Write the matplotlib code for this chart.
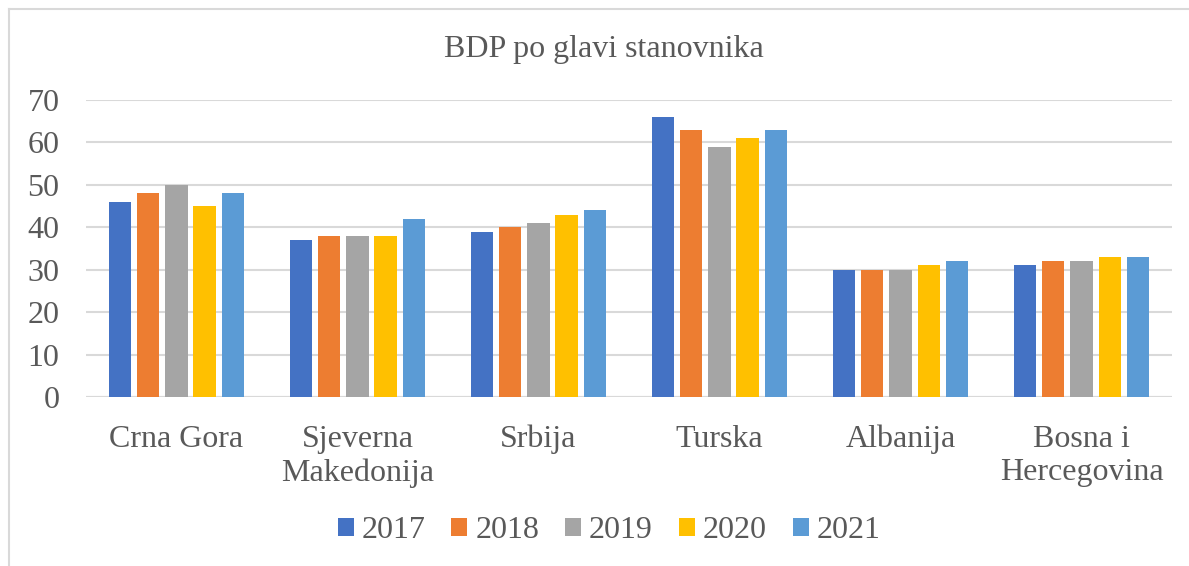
import numpy as np
import matplotlib.pyplot as plt
from matplotlib.lines import Line2D

plt.rcParams['font.family'] = ['Liberation Serif', 'DejaVu Serif']

countries = ['Crna Gora', 'Sjeverna\nMakedonija', 'Srbija', 'Turska', 'Albanija', 'Bosna i\nHercegovina']
years = ['2017', '2018', '2019', '2020', '2021']
v2017 = [46, 37, 39, 66, 30, 31]
v2018 = [48, 38, 40, 63, 30, 32]
v2019 = [50, 38, 41, 59, 30, 32]
v2020 = [45, 38, 43, 61, 31, 33]
v2021 = [48, 42, 44, 63, 32, 33]
series = [v2017, v2018, v2019, v2020, v2021]
colors = ['#4472C4', '#ED7D31', '#A5A5A5', '#FFC000', '#5B9BD5']
text_col = '#595959'

fig = plt.figure(figsize=(11.89, 5.66), dpi=100)
ax = fig.add_axes([0.0723, 0.2986, 0.9134, 0.5247])

x = np.arange(len(countries))
step = 0.155
width = 0.122
for i, (vals, c) in enumerate(zip(series, colors)):
    ax.bar(x + (i - 2) * step, vals, width, color=c, label=years[i], zorder=3)

ax.set_xlim(-0.5, len(countries) - 0.5)
ax.set_ylim(0, 70)
ax.set_yticks(range(0, 71, 10))
ax.grid(axis='y', color='#D9D9D9', linewidth=1.5, zorder=0)
for s in ax.spines.values():
    s.set_visible(False)
ax.axhline(0, color='#D9D9D9', linewidth=1.5, zorder=2)
ax.tick_params(length=0, labelsize=23, labelcolor=text_col)
ax.tick_params(axis='y', pad=19)
ax.tick_params(axis='x', pad=20)
ax.set_xticks(x)
ax.set_xticklabels(countries, linespacing=1.2)

fig.text(604 / 1189, 1 - 50 / 566, 'BDP po glavi stanovnika', ha='center', va='center',
         fontsize=23, color=text_col)

handles, labels = ax.get_legend_handles_labels()
fig.legend(handles, labels, loc='center', bbox_to_anchor=(609 / 1189, 1 - 531 / 566), ncol=5,
           frameon=False, fontsize=23, labelcolor=text_col, handlelength=0.5, handleheight=0.5,
           handletextpad=0.25, columnspacing=0.81, borderpad=0)

# outer chart border (partially visible)
fig.add_artist(Line2D([9 / 1189, 1.0], [1 - 9 / 566, 1 - 9 / 566], color='#D9D9D9', lw=1.5))
fig.add_artist(Line2D([9 / 1189, 9 / 1189], [0.0, 1 - 9 / 566], color='#D9D9D9', lw=1.5))

fig.savefig('out.png', dpi=100)
